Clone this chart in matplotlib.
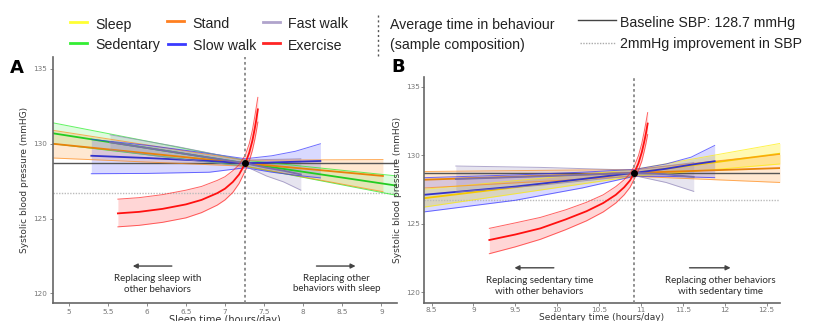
import numpy as np
import matplotlib
matplotlib.use('Agg')
import matplotlib.pyplot as plt
from matplotlib.lines import Line2D

W, H = 830, 321

BASELINE = 128.7
IMPROVED = 126.7

# ── Panel A: sleep time substitutions ────────────────────────────────────────
A_CENTER = 7.26

sed_a_x = [4.8, 7.26, 9.2]
sed_a_c = [130.7, 128.7, 127.2]
sed_a_lo = [130.0, 128.5, 126.55]
sed_a_hi = [131.4, 128.9, 127.85]

stand_a_x = [4.8, 7.26, 9.02]
stand_a_c = [130.0, 128.7, 127.85]
stand_a_lo = [129.05, 128.5, 126.8]
stand_a_hi = [130.9, 128.9, 128.95]

slow_a_x = [5.29, 6.0, 6.8, 7.26, 7.6, 7.9, 8.22]
slow_a_c = [129.2, 129.05, 128.85, 128.7, 128.75, 128.8, 128.85]
slow_a_lo = [128.0, 128.02, 128.1, 128.4, 128.1, 127.9, 127.72]
slow_a_hi = [130.3, 129.9, 129.35, 129.0, 129.2, 129.5, 130.0]

fast_a_x = [5.53, 6.4, 7.26, 7.53, 7.75, 7.97]
fast_a_c = [130.1, 129.4, 128.7, 128.4, 128.2, 127.95]
fast_a_lo = [129.6, 129.0, 128.5, 127.85, 127.45, 126.9]
fast_a_hi = [130.6, 129.8, 128.9, 128.95, 128.97, 129.0]

ex_a_x = [5.63, 5.9, 6.2, 6.5, 6.7, 6.9, 7.0, 7.1, 7.18, 7.26, 7.31, 7.35, 7.38, 7.40, 7.42]
ex_a_c = [125.35, 125.45, 125.65, 125.95, 126.25, 126.7, 127.0, 127.45, 127.95,
          128.7, 129.4, 130.2, 131.0, 131.6, 132.3]
ex_a_lo = [124.45, 124.55, 124.75, 125.05, 125.4, 125.9, 126.25, 126.75, 127.35,
           128.2, 128.85, 129.55, 130.25, 130.8, 131.45]
ex_a_hi = [126.3, 126.4, 126.6, 126.9, 127.15, 127.55, 127.8, 128.2, 128.6,
           129.25, 130.0, 130.9, 131.8, 132.45, 133.1]

# ── Panel B: sedentary time substitutions ────────────────────────────────────
B_CENTER = 10.92

sleep_b_x = [8.41, 10.92, 12.66]
sleep_b_c = [126.85, 128.7, 130.1]
sleep_b_lo = [126.2, 128.45, 129.35]
sleep_b_hi = [127.5, 128.95, 130.85]

stand_b_x = [8.41, 10.92, 12.66]
stand_b_c = [128.2, 128.7, 129.05]
stand_b_lo = [127.6, 128.45, 128.0]
stand_b_hi = [128.8, 128.95, 130.05]

slow_b_x = [8.41, 9.5, 10.3, 10.92, 11.3, 11.6, 11.88]
slow_b_c = [127.1, 127.7, 128.25, 128.7, 129.0, 129.3, 129.55]
slow_b_lo = [125.85, 126.7, 127.6, 128.45, 128.45, 128.4, 128.35]
slow_b_hi = [128.35, 128.55, 128.75, 128.95, 129.35, 129.85, 130.7]

fast_b_x = [8.79, 9.8, 10.92, 11.3, 11.63]
fast_b_c = [128.25, 128.45, 128.7, 128.6, 128.4]
fast_b_lo = [127.3, 127.8, 128.5, 128.0, 127.35]
fast_b_hi = [129.2, 129.1, 128.9, 129.2, 129.45]

ex_b_x = [9.19, 9.5, 9.8, 10.1, 10.35, 10.55, 10.7, 10.8, 10.87, 10.92, 10.97, 11.01,
          11.04, 11.06, 11.08]
ex_b_c = [123.8, 124.2, 124.65, 125.3, 125.9, 126.5, 127.1, 127.65, 128.15, 128.7,
          129.4, 130.2, 131.0, 131.6, 132.3]
ex_b_lo = [122.8, 123.3, 123.85, 124.55, 125.2, 125.85, 126.5, 127.1, 127.65, 128.25,
           128.9, 129.55, 130.3, 130.85, 131.5]
ex_b_hi = [124.65, 125.05, 125.45, 126.0, 126.55, 127.1, 127.7, 128.2, 128.65, 129.2,
           129.95, 130.85, 131.75, 132.4, 133.1]

COL = {
    'Sleep': ('#ffee00', '#f5c800', 0.30),
    'Sedentary': ('#22ee22', '#22cc22', 0.15),
    'Stand': ('#ff8c1a', '#e8820a', 0.20),
    'Slow walk': ('#3030ff', '#3333cc', 0.18),
    'Fast walk': ('#8f84b8', '#7a6eaa', 0.22),
    'Exercise': ('#ff2020', '#ff1010', 0.18),
}
LEGEND_COL = {
    'Sleep': '#ffff33', 'Stand': '#ff8020', 'Fast walk': '#b0a4cc',
    'Sedentary': '#33ee33', 'Slow walk': '#3a3aff', 'Exercise': '#ff2525',
}


def band(ax, name, x, c, lo, hi):
    fill, line, alpha = COL[name]
    ax.fill_between(x, lo, hi, color=fill, alpha=alpha, lw=0)
    ax.plot(x, lo, color=fill, lw=0.7, alpha=0.7)
    ax.plot(x, hi, color=fill, lw=0.7, alpha=0.7)
    ax.plot(x, c, color=line, lw=1.3)


def style_axes(ax, xticks, ylim, xlim, xlabel, xl_size, tick_pad, label_pad):
    ax.set_xlim(*xlim)
    ax.set_ylim(*ylim)
    ax.set_xticks(xticks)
    ax.set_xticklabels([('%g' % t) for t in xticks])
    ax.set_yticks([120, 125, 130, 135])
    for s in ['top', 'right']:
        ax.spines[s].set_visible(False)
    for s in ['left', 'bottom']:
        ax.spines[s].set_color('#666666')
        ax.spines[s].set_linewidth(1.2)
    ax.tick_params(labelsize=5.2, colors='#777777', length=2, width=0.6, pad=tick_pad)
    ax.set_xlabel(xlabel, fontsize=xl_size, color='#333333', labelpad=label_pad)
    ax.set_ylabel('Systolic blood pressure (mmHG)', fontsize=6.5, color='#333333',
                  labelpad=3)


def reference_lines(ax, center):
    ax.axhline(BASELINE, color='#555555', lw=1.0, zorder=1)
    ax.axhline(IMPROVED, color='#bbbbbb', lw=1.0, ls=(0, (1, 1)), zorder=1)
    ax.axvline(center, color='#888888', lw=1.3, ls=(0, (1.5, 1.5)), zorder=5)
    ax.plot([center], [BASELINE], 'o', color='black', ms=4, zorder=6)


def arrow(ax, x0, x1, y):
    ax.annotate('', xy=(x1, y), xytext=(x0, y),
                arrowprops=dict(arrowstyle='-|>', color='#444444', lw=1.0,
                                mutation_scale=7, shrinkA=0, shrinkB=0))


fig = plt.figure(figsize=(W / 100, H / 100), dpi=100)

axA = fig.add_axes([53 / W, 18 / H, 344 / W, 246 / H])
band(axA, 'Sedentary', sed_a_x, sed_a_c, sed_a_lo, sed_a_hi)
band(axA, 'Stand', stand_a_x, stand_a_c, stand_a_lo, stand_a_hi)
band(axA, 'Slow walk', slow_a_x, slow_a_c, slow_a_lo, slow_a_hi)
band(axA, 'Fast walk', fast_a_x, fast_a_c, fast_a_lo, fast_a_hi)
band(axA, 'Exercise', ex_a_x, ex_a_c, ex_a_lo, ex_a_hi)
reference_lines(axA, A_CENTER)
style_axes(axA, np.arange(5, 9.01, 0.5), (119.36, 135.8), (4.8, 9.2),
           'Sleep time (hours/day)', 7, 2, 0)

note = dict(fontsize=7, color='#2a2a2a', family='Lato', ha='center',
            va='center', linespacing=1.25)
arrow(axA, 6.32, 5.82, 121.83)
arrow(axA, 8.17, 8.67, 121.83)
axA.text(6.14, 120.62, 'Replacing sleep with\nother behaviors', **note)
axA.text(8.43, 120.66, 'Replacing other\nbehaviors with sleep', **note)

axB = fig.add_axes([424 / W, 18 / H, 356 / W, 226 / H])
band(axB, 'Sleep', sleep_b_x, sleep_b_c, sleep_b_lo, sleep_b_hi)
band(axB, 'Stand', stand_b_x, stand_b_c, stand_b_lo, stand_b_hi)
band(axB, 'Slow walk', slow_b_x, slow_b_c, slow_b_lo, slow_b_hi)
band(axB, 'Fast walk', fast_b_x, fast_b_c, fast_b_lo, fast_b_hi)
band(axB, 'Exercise', ex_b_x, ex_b_c, ex_b_lo, ex_b_hi)
reference_lines(axB, B_CENTER)
style_axes(axB, np.arange(8.5, 12.51, 0.5), (119.2, 135.7), (8.41, 12.66),
           'Sedentary time (hours/day)', 6.5, 1, 0)

arrow(axB, 9.96, 9.49, 121.77)
arrow(axB, 11.58, 12.07, 121.77)
axB.text(9.79, 120.45, 'Replacing sedentary time\nwith other behaviors', **note)
axB.text(11.95, 120.45, 'Replacing other behaviors\nwith sedentary time', **note)

# panel letters
fig.text(10 / W, 1 - 68 / H, 'A', fontsize=13, fontweight='bold', va='center')
fig.text(391 / W, 1 - 67 / H, 'B', fontsize=13, fontweight='bold', va='center')

# ── legend drawn in figure pixels ────────────────────────────────────────────
def fx(x):
    return x / W


def fy(y):
    return 1 - y / H


leg_font = dict(fontsize=10.2, family='Liberation Sans', color='#222222', va='center')
items = [('Sleep', 70, 22), ('Stand', 167, 21), ('Fast walk', 263, 22),
         ('Sedentary', 70, 43), ('Slow walk', 168, 44), ('Exercise', 263, 43)]
for name, x0, y0 in items:
    fig.add_artist(Line2D([fx(x0), fx(x0 + 17)], [fy(y0), fy(y0)],
                          color=LEGEND_COL[name], lw=2))
    fig.text(fx(x0 + 25), fy(y0 + 2.5), name, **leg_font)

fig.add_artist(Line2D([fx(378), fx(378)], [fy(15), fy(57)], color='#555555',
                      lw=1, ls=(0, (1.5, 2))))
fig.text(fx(390), fy(25), 'Average time in behaviour', **leg_font)
fig.text(fx(390), fy(45.5), '(sample composition)', **leg_font)

fig.add_artist(Line2D([fx(578), fx(616)], [fy(20), fy(20)], color='#444444', lw=1))
fig.text(fx(620), fy(23), 'Baseline SBP: 128.7 mmHg', **leg_font)
fig.add_artist(Line2D([fx(580), fx(616)], [fy(43), fy(43)], color='#aaaaaa', lw=1,
                      ls=(0, (1, 1))))
fig.text(fx(620), fy(44), '2mmHg improvement in SBP', **leg_font)

fig.savefig('out.png', dpi=100)
